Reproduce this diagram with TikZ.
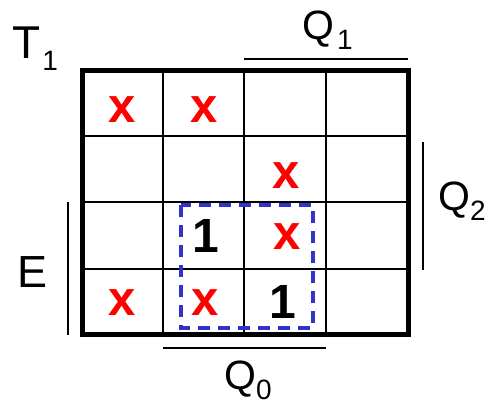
\documentclass[tikz,border=0pt]{standalone}
\usepackage{fontspec}
\setmainfont{Liberation Sans}
\definecolor{xred}{RGB}{255,0,0}
\definecolor{grpblue}{RGB}{51,51,204}
\newcommand\subtxt[2]{\raisebox{-#2pt}{\fontsize{28}{28}\selectfont #1}}
\begin{document}
\begin{tikzpicture}[x=1pt,y=-1pt,
  cellx/.style={anchor=base,text=xred,font=\fontsize{49}{49}\selectfont\bfseries,inner sep=0pt},
  cellone/.style={anchor=base,text=black,font=\fontsize{48}{48}\selectfont\bfseries,inner sep=0pt},
  lbl/.style={anchor=base west,inner sep=0pt},
  bar/.style={line width=1.8pt},
  grid/.style={line width=2pt},
  frame/.style={line width=5pt},
  group/.style={draw=grpblue,line width=3.5pt,dash pattern=on 12pt off 8pt}]
\useasboundingbox (0,0) rectangle (491,407);
% grid
\coordinate (tl) at (82,70);
\coordinate (br) at (408,334);
\foreach \x in {163,244,326} \draw[grid] (\x,70) -- (\x,334);
\foreach \y in {136,202,269} \draw[grid] (82,\y) -- (408,\y);
\draw[frame] (tl) rectangle (br);
% group
\draw[group] (181,205) rectangle (313,328);
% cells
\node[cellx] (c11) at (122,122) {x};
\node[cellx] (c12) at (204,122) {x};
\node[cellx] (c23) at (286,188) {x};
\node[cellone] (c32) at (206,252) {1};
\node[cellx] (c33) at (287,249) {x};
\node[cellx] (c41) at (122,315) {x};
\node[cellx] (c42) at (205,315) {x};
\node[cellone] (c43) at (283,318) {1};
% labels
\node[lbl,font=\fontsize{46}{46}\selectfont] (t1) at (12,58) {T\hspace{2pt}\subtxt{1}{12}};
\node[lbl,font=\fontsize{41}{41}\selectfont] (q1) at (302,39) {Q\hspace{3pt}\subtxt{1}{10}};
\node[lbl,font=\fontsize{41}{41}\selectfont] (q2) at (438,210) {Q\hspace{0pt}\subtxt{2}{10}};
\node[lbl,font=\fontsize{45}{45}\selectfont] (e) at (17,287) {E};
\node[lbl,font=\fontsize{41}{41}\selectfont] (q0) at (224,389) {Q\hspace{0pt}\subtxt{0}{10}};
% bars
\coordinate (q1a) at (244,59); \coordinate (q1b) at (408,59);
\draw[bar] (q1a) -- (q1b);
\coordinate (q2a) at (423,142); \coordinate (q2b) at (423,270);
\draw[bar] (q2a) -- (q2b);
\coordinate (ea) at (68,202); \coordinate (eb) at (68,335);
\draw[bar] (ea) -- (eb);
\coordinate (q0a) at (163,348); \coordinate (q0b) at (326,348);
\draw[bar] (q0a) -- (q0b);
\end{tikzpicture}
\end{document}
